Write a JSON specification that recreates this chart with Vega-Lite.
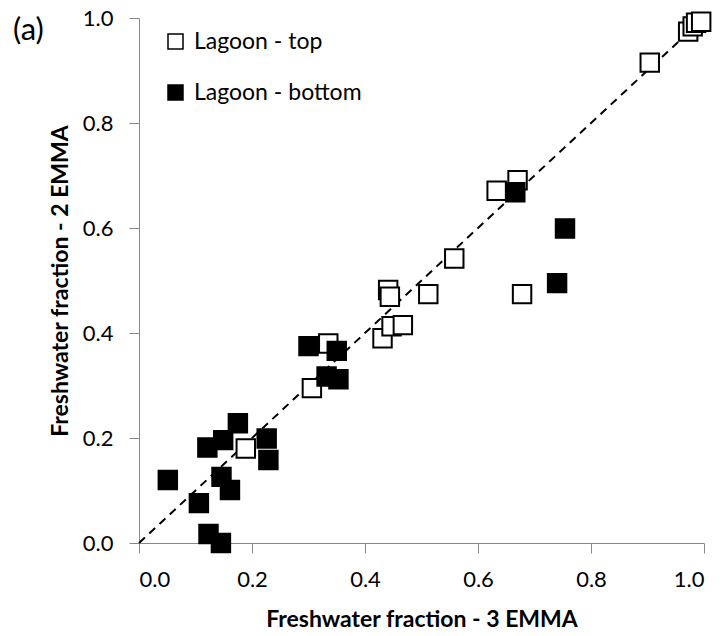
{
  "$schema": "https://vega.github.io/schema/vega-lite/v6.json",
  "width": 565,
  "height": 525,
  "autosize": {"type": "none"},
  "padding": {"left": 139, "top": 18, "right": 20, "bottom": 93},
  "background": "white",
  "config": {
    "view": {"stroke": null},
    "font": "Lato",
    "title": {"fontSize": 31, "font": "Lato", "fontWeight": "normal", "color": "black"},
    "axis": {"grid": false, "domainColor": "#888888", "tickColor": "#888888", "tickSize": 10, "labelFont": "Lato", "labelFontSize": 22, "labelColor": "black", "titleFont": "Lato", "titleFontSize": 23, "titleFontWeight": "bold", "titleColor": "black"}
  },
  "title": {"text": "(a)", "anchor": "start", "frame": "group", "fontSize": 31, "fontWeight": "normal", "font": "Lato", "color": "black", "dx": -126, "dy": 40, "offset": 0},
  "datasets": {
    "pts": [
      {"x3": 0.189, "y2": 0.18, "group": "Lagoon - top"},
      {"x3": 0.306, "y2": 0.295, "group": "Lagoon - top"},
      {"x3": 0.335, "y2": 0.38, "group": "Lagoon - top"},
      {"x3": 0.431, "y2": 0.39, "group": "Lagoon - top"},
      {"x3": 0.447, "y2": 0.413, "group": "Lagoon - top"},
      {"x3": 0.467, "y2": 0.415, "group": "Lagoon - top"},
      {"x3": 0.441, "y2": 0.482, "group": "Lagoon - top"},
      {"x3": 0.444, "y2": 0.469, "group": "Lagoon - top"},
      {"x3": 0.512, "y2": 0.474, "group": "Lagoon - top"},
      {"x3": 0.558, "y2": 0.542, "group": "Lagoon - top"},
      {"x3": 0.633, "y2": 0.671, "group": "Lagoon - top"},
      {"x3": 0.670, "y2": 0.691, "group": "Lagoon - top"},
      {"x3": 0.678, "y2": 0.474, "group": "Lagoon - top"},
      {"x3": 0.904, "y2": 0.915, "group": "Lagoon - top"},
      {"x3": 0.972, "y2": 0.974, "group": "Lagoon - top"},
      {"x3": 0.980, "y2": 0.984, "group": "Lagoon - top"},
      {"x3": 0.986, "y2": 0.991, "group": "Lagoon - top"},
      {"x3": 0.995, "y2": 0.993, "group": "Lagoon - top"},
      {"x3": 0.051, "y2": 0.12, "group": "Lagoon - bottom"},
      {"x3": 0.175, "y2": 0.228, "group": "Lagoon - bottom"},
      {"x3": 0.121, "y2": 0.182, "group": "Lagoon - bottom"},
      {"x3": 0.149, "y2": 0.196, "group": "Lagoon - bottom"},
      {"x3": 0.226, "y2": 0.199, "group": "Lagoon - bottom"},
      {"x3": 0.229, "y2": 0.158, "group": "Lagoon - bottom"},
      {"x3": 0.146, "y2": 0.126, "group": "Lagoon - bottom"},
      {"x3": 0.161, "y2": 0.101, "group": "Lagoon - bottom"},
      {"x3": 0.106, "y2": 0.076, "group": "Lagoon - bottom"},
      {"x3": 0.123, "y2": 0.017, "group": "Lagoon - bottom"},
      {"x3": 0.145, "y2": 0.0, "group": "Lagoon - bottom"},
      {"x3": 0.300, "y2": 0.375, "group": "Lagoon - bottom"},
      {"x3": 0.350, "y2": 0.366, "group": "Lagoon - bottom"},
      {"x3": 0.332, "y2": 0.317, "group": "Lagoon - bottom"},
      {"x3": 0.353, "y2": 0.312, "group": "Lagoon - bottom"},
      {"x3": 0.666, "y2": 0.668, "group": "Lagoon - bottom"},
      {"x3": 0.754, "y2": 0.599, "group": "Lagoon - bottom"},
      {"x3": 0.740, "y2": 0.495, "group": "Lagoon - bottom"}
    ],
    "line": [
      {"x3": 0, "y2": 0},
      {"x3": 1, "y2": 1}
    ]
  },
  "layer": [
    {
      "data": {"name": "line"},
      "mark": {"type": "line", "color": "black", "strokeWidth": 2, "strokeDash": [8, 6]},
      "encoding": {
        "x": {"field": "x3", "type": "quantitative"},
        "y": {"field": "y2", "type": "quantitative"}
      }
    },
    {
      "data": {"name": "pts"},
      "mark": {"type": "point", "shape": "square", "size": 340, "stroke": "black", "strokeWidth": 2, "opacity": 1, "filled": false},
      "encoding": {
        "x": {"field": "x3", "type": "quantitative", "scale": {"domain": [0, 1]}, "axis": {"title": "Freshwater fraction - 3 EMMA", "values": [0, 0.2, 0.4, 0.6, 0.8, 1.0], "format": ".1f", "labelPadding": 16, "titlePadding": 18}},
        "y": {"field": "y2", "type": "quantitative", "scale": {"domain": [0, 1]}, "axis": {"title": "Freshwater fraction - 2 EMMA", "values": [0, 0.2, 0.4, 0.6, 0.8, 1.0], "format": ".1f", "labelPadding": 16, "titlePadding": 10}},
        "fill": {"field": "group", "type": "nominal", "scale": {"domain": ["Lagoon - top", "Lagoon - bottom"], "range": ["white", "black"]},
          "legend": {"title": null, "orient": "none", "legendX": 25, "legendY": 12, "symbolType": "square", "symbolSize": 225, "symbolStrokeColor": "black", "symbolStrokeWidth": 1.5, "labelFontSize": 23, "labelFont": "Lato", "labelColor": "black", "labelLimit": 400, "rowPadding": 27, "labelOffset": 7}}
      }
    }
  ]
}
